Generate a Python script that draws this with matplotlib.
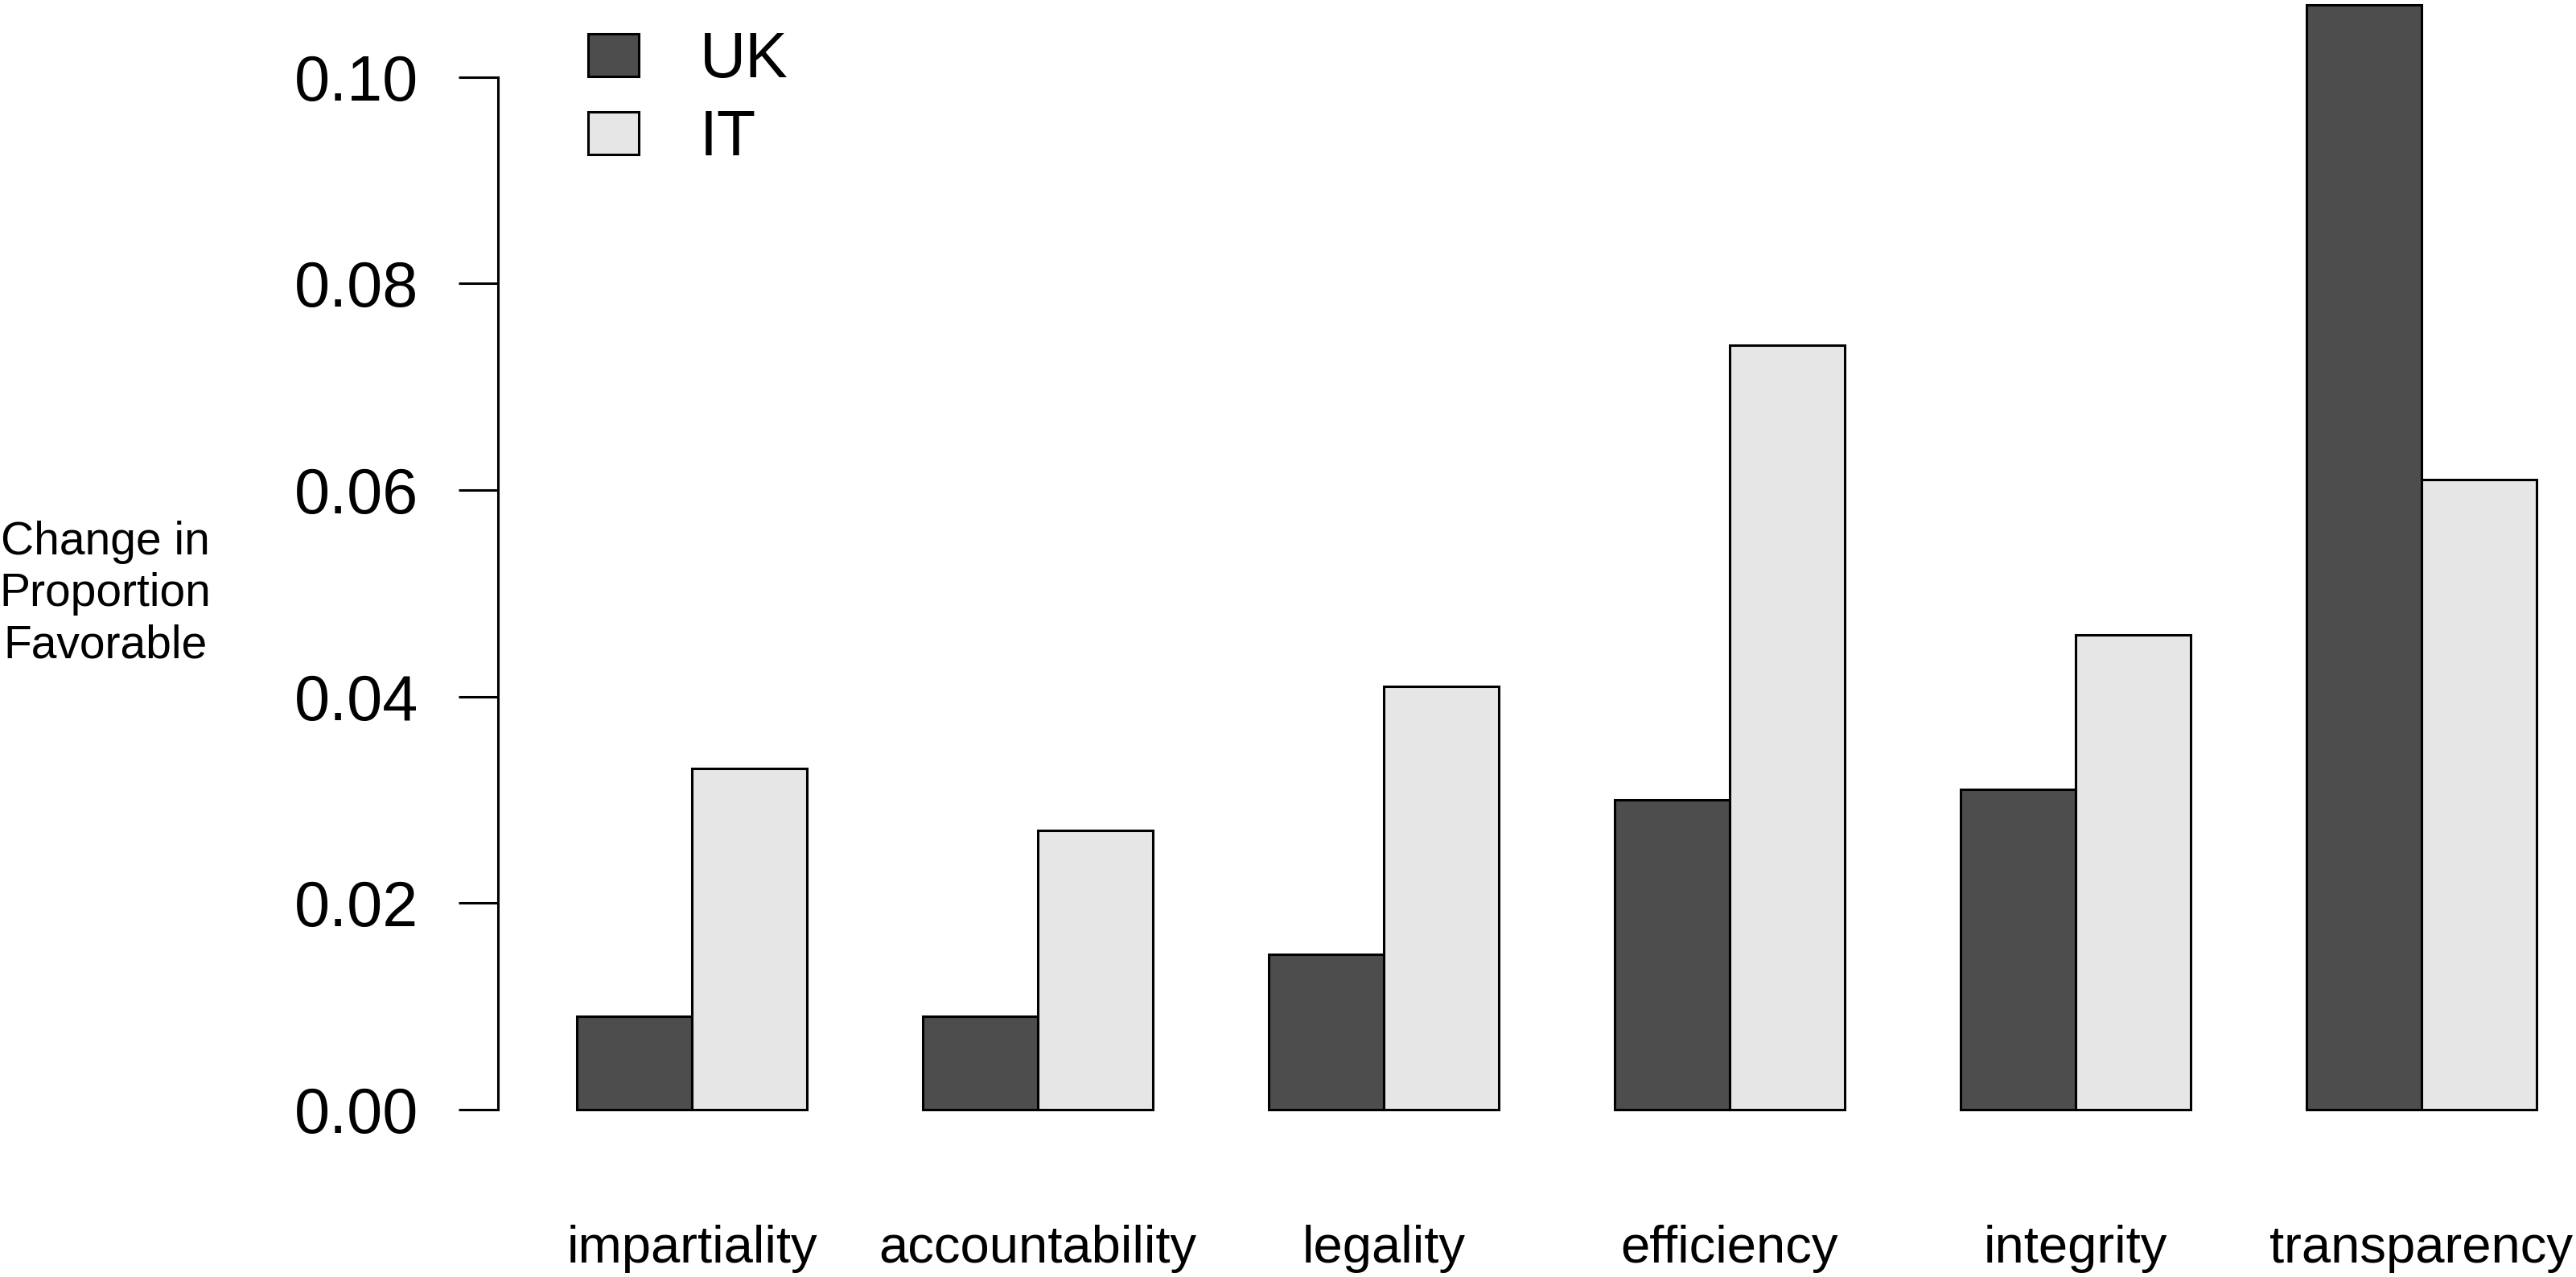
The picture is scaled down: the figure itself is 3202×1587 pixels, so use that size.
import numpy as np
import matplotlib
matplotlib.use("Agg")
import matplotlib.pyplot as plt
import matplotlib.transforms as mtransforms

categories = ["impartiality", "accountability", "legality", "efficiency", "integrity", "transparency"]
uk_values = [0.009, 0.009, 0.015, 0.030, 0.031, 0.107]
it_values = [0.033, 0.027, 0.041, 0.074, 0.046, 0.061]
series_names = ["UK", "IT"]
y_ticks = [0.00, 0.02, 0.04, 0.06, 0.08, 0.10]

plt.rcParams['font.family'] = ['Liberation Sans', 'DejaVu Sans']

fig = plt.figure(figsize=(32.02, 15.87), dpi=100)
ax = fig.add_axes([0, 0, 1, 1])

# R-style beside barplot: each group two bars wide, one bar gap
left_uk = 1 + 3 * np.arange(len(categories))
left_it = left_uk + 1
ax.bar(left_uk, uk_values, width=1, align='edge', color='#4D4D4D',
       edgecolor='black', linewidth=2.2, label=series_names[0], clip_on=False)
ax.bar(left_it, it_values, width=1, align='edge', color='#E6E6E6',
       edgecolor='black', linewidth=2.2, label=series_names[1], clip_on=False)

ax.set_xlim(-4.0, 18.34)
ax.set_ylim(-0.01624, 0.10748)

for s in ['top', 'right', 'bottom']:
    ax.spines[s].set_visible(False)
ax.spines['left'].set_position(('data', 0.32))
ax.spines['left'].set_bounds(0, 0.10)
ax.spines['left'].set_linewidth(2.2)

ax.set_yticks(y_ticks)
ax.set_yticklabels([f"{t:.2f}" for t in y_ticks])
ax.tick_params(axis='y', direction='out', length=35, width=2.2, pad=36, labelsize=57)
ax.set_xticks([])

# category labels under each group
trans = mtransforms.blended_transform_factory(ax.transData, fig.transFigure)
for i, cat in enumerate(categories):
    ax.text(left_it[i], 0.022, cat, transform=trans, ha='center', va='center', fontsize=47)

fig.text(0.041, 0.535, "Change in\nProportion\nFavorable", ha='center', va='center',
         fontsize=41, linespacing=1.24)

ax.legend(loc='upper left', bbox_to_anchor=(0.2283, 0.976), bbox_transform=fig.transFigure,
          frameon=False, fontsize=57, handlelength=0.8, handleheight=0.65,
          handletextpad=0.95, labelspacing=0.28, borderpad=0, borderaxespad=0)

fig.savefig("out.png", dpi=100)
